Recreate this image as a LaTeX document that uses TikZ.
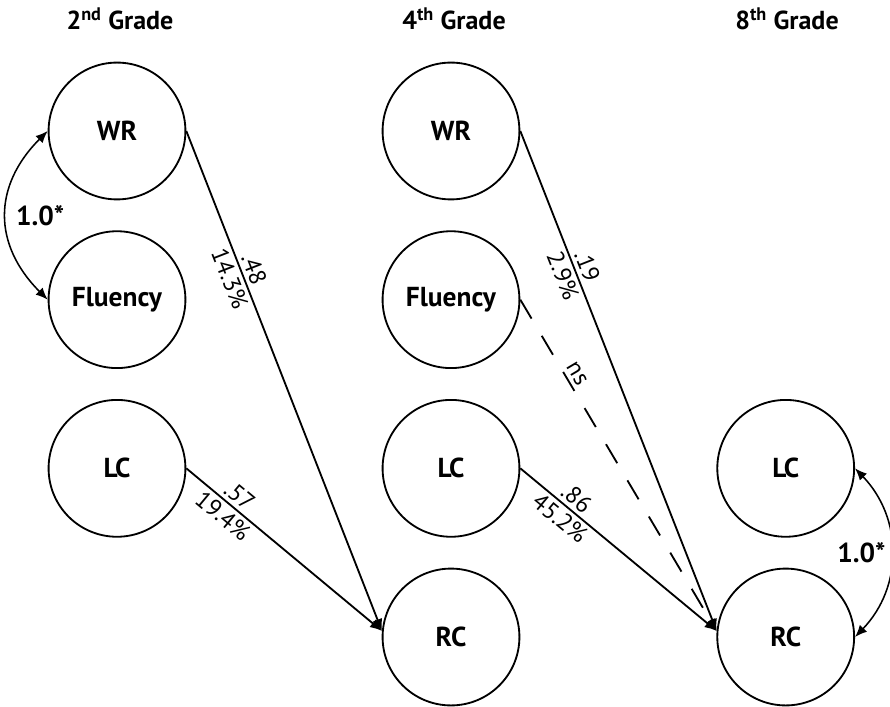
\documentclass[tikz,border=0pt]{standalone}
\usepackage{fontspec}
\setmainfont{PT Sans}
\usetikzlibrary{positioning, arrows.meta}

\tikzset{
  var/.style={circle, draw, line width=1.3pt, minimum size=3.42cm, inner sep=0pt,
    font=\bfseries\fontsize{19.5}{21}\selectfont},
  grade/.style={font=\bfseries\fontsize{18.5}{20}\selectfont},
  link/.style={line width=1.3pt, -{Latex[length=3mm,width=2.5mm]}},
  corr/.style={line width=1.1pt, {Latex[length=3mm,width=2.5mm]}-{Latex[length=3mm,width=2.5mm]}},
  coef/.style={sloped, inner sep=2.5pt, font=\fontsize{17}{19}\selectfont},
  corrlbl/.style={font=\bfseries\fontsize{19.5}{21}\selectfont}
}

\begin{document}
\begin{tikzpicture}[x=0.025cm, y=-0.025cm]
    \useasboundingbox (0,0) rectangle (890,707);
    % grade headings
    \node[grade] (g2) at (120,19) {2\textsuperscript{nd} Grade};
    \node[grade] (g4) at (454,19) {4\textsuperscript{th} Grade};
    \node[grade] (g8) at (787,19) {8\textsuperscript{th} Grade};
    % 2nd grade
    \node[var] (wr2) at (117,131) {WR};
    \node[var, below=0.75cm of wr2] (flu2) {Fluency};
    \node[var, below=0.75cm of flu2] (lc2) {LC};
    % 4th grade
    \node[var] (wr4) at (451,131) {WR};
    \node[var, below=0.75cm of wr4] (flu4) {Fluency};
    \node[var, below=0.75cm of flu4] (lc4) {LC};
    \node[var, below=0.75cm of lc4] (rc4) {RC};
    % 8th grade
    \node[var, right=4.9cm of lc4] (lc8) {LC};
    \node[var, below=0.75cm of lc8] (rc8) {RC};
    % paths 2nd -> 4th
    \draw[link] (wr2.east) -- node[coef, above, pos=0.285] {.48} node[coef, below, pos=0.285] {14.3\%} (rc4.175);
    \draw[link] (lc2.east) -- node[coef, above, pos=0.23] {.57} node[coef, below, pos=0.23] {19.4\%} (rc4.175);
    % paths 4th -> 8th
    \draw[link] (wr4.east) -- node[coef, above, pos=0.28] {.19} node[coef, below, pos=0.28] {2.9\%} (rc8.175);
    \draw[link, dash pattern=on 0.55cm off 0.5cm] (flu4.east) -- node[coef, above, pos=0.24] {ns} (rc8.175);
    \draw[link] (lc4.east) -- node[coef, above, pos=0.245] {.86} node[coef, below, pos=0.245] {45.2\%} (rc8.175);
    % correlations
    \draw[corr] (wr2.west) .. controls +(-55,55) and +(-55,-55) .. node[corrlbl, right=3pt] {1.0*} (flu2.west);
    \draw[corr] (lc8.east) .. controls +(48,50) and +(48,-50) .. node[corrlbl, left] {1.0*} (rc8.east);
\end{tikzpicture}
\end{document}
